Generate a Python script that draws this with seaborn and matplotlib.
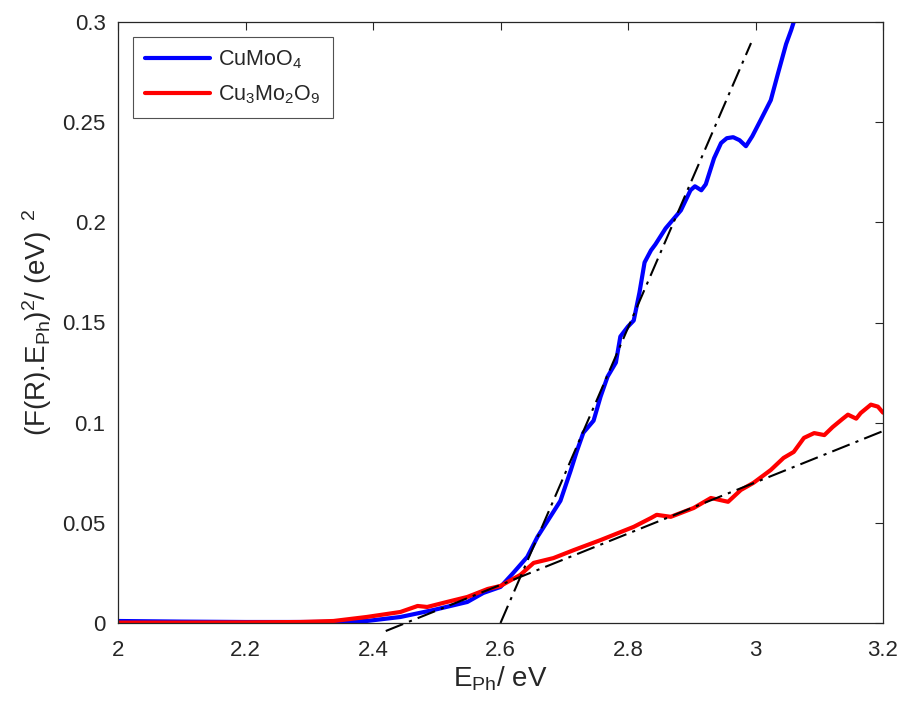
import numpy as np
import pandas as pd
import matplotlib
matplotlib.use("Agg")
import matplotlib.pyplot as plt
import seaborn as sns

# CuMoO4 (blue)
cumoo4_x = [2.00, 2.10, 2.20, 2.30, 2.35, 2.39, 2.443, 2.495, 2.548, 2.573, 2.60, 2.62, 2.642,
            2.658, 2.674, 2.694, 2.71, 2.72, 2.73, 2.746, 2.757, 2.768, 2.781, 2.788, 2.80,
            2.809, 2.818, 2.826, 2.836, 2.843, 2.859, 2.883, 2.898, 2.905, 2.915, 2.922,
            2.935, 2.946, 2.955, 2.965, 2.975, 2.985, 2.995, 3.008, 3.024, 3.035, 3.048,
            3.056, 3.062]
cumoo4_y = [0.001, 0.0007, 0.0005, 0.0005, 0.0006, 0.001, 0.003, 0.0065, 0.0105, 0.015, 0.018,
            0.025, 0.033, 0.043, 0.051, 0.061, 0.076, 0.086, 0.095, 0.101, 0.113, 0.123, 0.130,
            0.143, 0.148, 0.151, 0.165, 0.180, 0.186, 0.189, 0.197, 0.206, 0.216, 0.218, 0.216,
            0.219, 0.232, 0.2396, 0.242, 0.2425, 0.241, 0.238, 0.243, 0.251, 0.261, 0.274,
            0.289, 0.296, 0.302]

# Cu3Mo2O9 (red)
cu3_x = [2.00, 2.10, 2.20, 2.286, 2.338, 2.39, 2.443, 2.47, 2.485, 2.516, 2.548, 2.58, 2.60,
         2.631, 2.652, 2.683, 2.715, 2.757, 2.809, 2.836, 2.845, 2.867, 2.903, 2.93, 2.957,
         2.977, 2.997, 3.024, 3.044, 3.06, 3.076, 3.092, 3.108, 3.121, 3.137, 3.145, 3.158,
         3.165, 3.181, 3.192, 3.20]
cu3_y = [0.0002, 0.0002, 0.0003, 0.0005, 0.001, 0.003, 0.0055, 0.0085, 0.008, 0.0105, 0.013,
         0.017, 0.0185, 0.024, 0.030, 0.0324, 0.0364, 0.0414, 0.048, 0.0524, 0.054, 0.053,
         0.0574, 0.0624, 0.0605, 0.0664, 0.070, 0.0764, 0.0824, 0.0854, 0.0924, 0.0948,
         0.0938, 0.0978, 0.102, 0.104, 0.102, 0.1048, 0.109, 0.108, 0.105]

# Linear fits (Tauc extrapolations)
fit1_x = [2.60, 2.993]
fit1_y = [0.0, 0.2895]
fit2_x = [2.42, 3.20]
fit2_y = [-0.004, 0.0958]

xticks = [2.0, 2.2, 2.4, 2.6, 2.8, 3.0, 3.2]
xticklabels = ["2", "2.2", "2.4", "2.6", "2.8", "3", "3.2"]
yticks = [0, 0.05, 0.1, 0.15, 0.2, 0.25, 0.3]
yticklabels = ["0", "0.05", "0.1", "0.15", "0.2", "0.25", "0.3"]

sns.set_style("white")
plt.rcParams['font.family'] = ['Liberation Sans', 'DejaVu Sans']
plt.rcParams['mathtext.fontset'] = 'custom'
plt.rcParams['mathtext.rm'] = 'Liberation Sans'
plt.rcParams['mathtext.it'] = 'Liberation Sans'

fig = plt.figure(figsize=(9.05, 7.05), dpi=100)
ax = fig.add_axes([118/905, 82/705, (883-118)/905, (623-22)/705])

df1 = pd.DataFrame({"x": cumoo4_x, "y": cumoo4_y})
df2 = pd.DataFrame({"x": cu3_x, "y": cu3_y})
sns.lineplot(data=df1, x="x", y="y", ax=ax, color="#0000ff", lw=3, label="CuMoO$_4$")
sns.lineplot(data=df2, x="x", y="y", ax=ax, color="#ff0000", lw=3, label="Cu$_3$Mo$_2$O$_9$")
ax.plot(fit1_x, fit1_y, color="black", lw=1.5, ls="-.", dashes=(9, 3, 1.5, 3))
ax.plot(fit2_x, fit2_y, color="black", lw=1.5, ls="-.", dashes=(9, 3, 1.5, 3), clip_on=False)

ax.set_xlim(2.0, 3.2)
ax.set_ylim(0, 0.3)
ax.set_xticks(xticks)
ax.set_xticklabels(xticklabels)
ax.set_yticks(yticks)
ax.set_yticklabels(yticklabels)
ax.tick_params(direction="in", length=6, width=0.8, top=True, right=True,
               labelsize=16, colors="#262626")
ax.tick_params(axis="x", pad=12)
ax.tick_params(axis="y", pad=9)
for s in ax.spines.values():
    s.set_color("#262626")
    s.set_linewidth(0.9)

ax.set_xlabel(r"E$_{\mathrm{Ph}}$/ eV", fontsize=20, color="#262626", labelpad=3)
ax.set_ylabel(r"(F(R).E$_{\mathrm{Ph}}$)$^2$/ (eV)$^{\ \ 2}$", fontsize=20, color="#262626", labelpad=6)

leg = ax.legend(loc="upper left", bbox_to_anchor=(0.02, 0.975), borderaxespad=0, fontsize=15.5,
                frameon=True, fancybox=False, edgecolor="#262626", handlelength=3.0,
                borderpad=0.55, labelspacing=0.55, handletextpad=0.4)
leg.get_frame().set_linewidth(0.8)

fig.savefig("out.png", dpi=100, facecolor="white")
